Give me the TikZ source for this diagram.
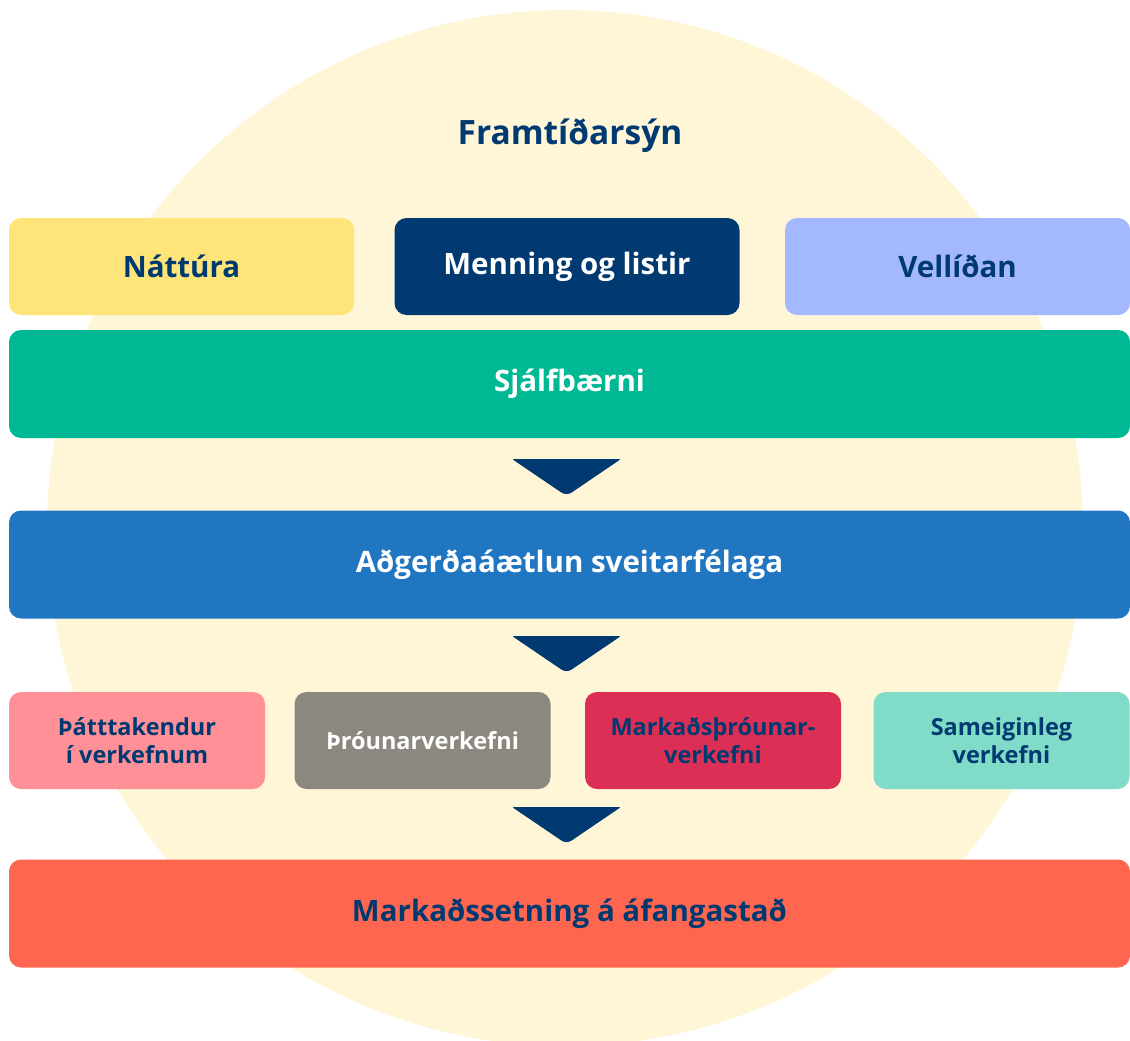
\documentclass[tikz,border=0pt]{standalone}
\usepackage{fontspec}
\setmainfont{Open Sans}
\usetikzlibrary{calc}
\definecolor{navy}{HTML}{003A70}
\definecolor{cream}{HTML}{FFF6D8}
\definecolor{cyellow}{HTML}{FFE47A}
\definecolor{clav}{HTML}{A4B8FF}
\definecolor{cgreen}{HTML}{00B894}
\definecolor{cblue}{HTML}{2176C2}
\definecolor{cpink}{HTML}{FF9098}
\definecolor{cgray}{HTML}{8C8880}
\definecolor{cred}{HTML}{DC2F55}
\definecolor{cmint}{HTML}{80DCC8}
\definecolor{ccoral}{HTML}{FF6650}
\tikzset{
  box/.style={rectangle, rounded corners=12pt, inner sep=0pt, align=center,
    font=\bfseries\fontsize{29.5}{34}\selectfont},
  topbox/.style={box, minimum width=345pt, minimum height=97pt},
  widebox/.style={box, minimum width=1121pt, minimum height=108pt},
  smallbox/.style={box, minimum width=256pt, minimum height=97pt,
    font=\bfseries\fontsize{23.5}{28}\selectfont},
  chev/.style={fill=navy, rounded corners=2pt}
}
\begin{document}
\begin{tikzpicture}[x=1pt,y=1pt]
\useasboundingbox (0,0) rectangle (1130,-1041);
\begin{scope}
\clip (0,0) rectangle (1130,-1041);
\fill[cream] (565,-528) circle (518);
\end{scope}
\node[font=\bfseries\fontsize{33.5}{38}\selectfont, text=navy] (title) at (570,-136) {Framtíðarsýn};
\node[topbox, fill=cyellow, text=navy] (nat) at (181.5,-266.5) {Náttúra};
\node[topbox, fill=navy, text=white] (men) at (567,-266.5) {Menning og listir};
\node[topbox, fill=clav, text=navy] (vel) at (957.5,-266.5) {Vellíðan};
\node[widebox, fill=cgreen, text=white] (sja) at (569.5,-384) {Sjálfbærni};
\node[widebox, fill=cblue, text=white] (adg) at (569.5,-564.5) {Aðgerðaáætlun sveitarfélaga};
\node[smallbox, fill=cpink, text=navy] (tha) at (137,-740.5) {Þátttakendur\\í verkefnum};
\node[smallbox, fill=cgray, text=white] (thr) at (422.5,-740.5) {Þróunarverkefni};
\node[smallbox, fill=cred, text=navy] (mar) at (713,-740.5) {Markaðsþróunar-\\verkefni};
\node[smallbox, fill=cmint, text=navy] (sam) at (1001.5,-740.5) {Sameiginleg\\verkefni};
\node[widebox, fill=ccoral, text=navy] (mks) at (569.5,-913.5) {Markaðssetning á áfangastað};
% chevrons
\fill[chev] (512,-459) -- (621,-459) [rounded corners=6pt] -- (566.5,-496) [rounded corners=2pt] -- cycle;
\fill[chev] (512,-636) -- (621,-636) [rounded corners=6pt] -- (566.5,-673) [rounded corners=2pt] -- cycle;
\fill[chev] (512,-807) -- (621,-807) [rounded corners=6pt] -- (566.5,-844) [rounded corners=2pt] -- cycle;
\end{tikzpicture}
\end{document}
